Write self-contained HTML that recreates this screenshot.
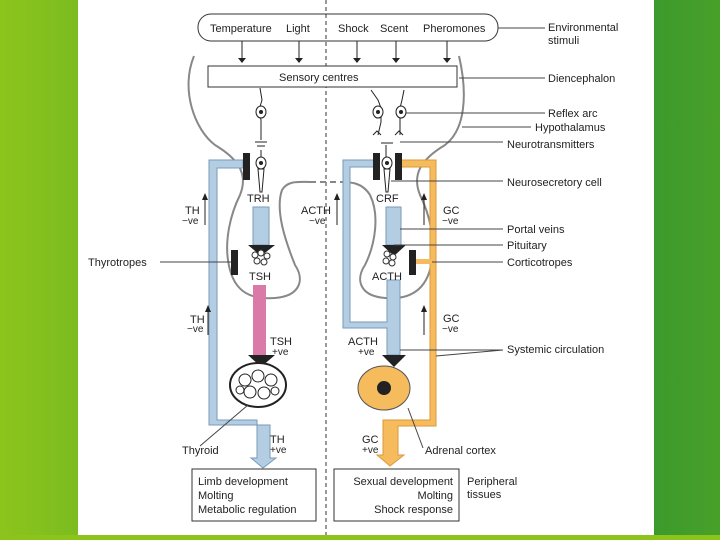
<!DOCTYPE html>
<html><head><style>
body{margin:0;width:720px;height:540px;overflow:hidden;background:linear-gradient(90deg,#8cc41c 0,#7cbc20 78px,#fff 78px,#fff 654px,#3c9a2c 654px,#48a028 720px);font-family:"Liberation Sans",sans-serif}
svg{position:absolute;left:0;top:0}
text{font-family:"Liberation Sans",sans-serif;font-size:11px;fill:#222}
.s{font-size:10px}
</style></head><body>
<svg width="720" height="540" viewBox="0 0 720 540">
<rect x="0" y="535" width="720" height="5" fill="#8cc41c"/>
<rect x="78" y="0" width="576" height="535" fill="#fff"/>
<line x1="326" y1="0" x2="326" y2="535" stroke="#333" stroke-dasharray="4,3" stroke-width="1"/>
<rect x="198" y="14" width="300" height="27" rx="13" fill="none" stroke="#333"/>
<text x="210" y="32">Temperature</text><text x="286" y="32">Light</text>
<text x="338" y="32">Shock</text><text x="380" y="32">Scent</text><text x="423" y="32">Pheromones</text>
<g stroke="#222"><line x1="242" y1="41" x2="242" y2="60"/><line x1="299" y1="41" x2="299" y2="60"/><line x1="357" y1="41" x2="357" y2="60"/><line x1="396" y1="41" x2="396" y2="60"/><line x1="447" y1="41" x2="447" y2="60"/></g>
<g fill="#222"><path d="M238,58h8l-4,5z"/><path d="M295,58h8l-4,5z"/><path d="M353,58h8l-4,5z"/><path d="M392,58h8l-4,5z"/><path d="M443,58h8l-4,5z"/></g>
<rect x="208" y="66" width="249" height="21" fill="#fff" stroke="#333"/>
<text x="279" y="81">Sensory centres</text>
<g fill="none" stroke="#888" stroke-width="2">
<path d="M194,56 C180,90 195,130 215,145 C240,160 248,175 240,195 C230,215 225,240 228,260 C232,290 248,300 275,298 C300,296 305,280 295,265 C285,240 275,210 282,190 C288,180 300,182 310,182"/>
<path d="M459,56 C468,95 465,130 445,145 C420,160 412,175 420,195 C430,215 435,240 432,260 C428,290 410,300 385,298 C360,296 355,280 365,265 C375,245 380,215 370,195 C362,182 350,182 340,182"/>
<path d="M310,182 H340" stroke-dasharray="6,4"/>
</g>
<g stroke="#222" fill="none" stroke-width="1">
<path d="M260,88 L262,100 L259,110 L261,120 L261,140 M261,150 L261,175"/>
<path d="M371,90 L378,100 L381,108 L381,122 L378,135 M404,90 L402,100 L400,108 L400,122 L400,135"/>
<path d="M386,145 L386,175"/>
</g>
<g fill="#fff" stroke="#222"><ellipse cx="261" cy="112" rx="5" ry="6"/><ellipse cx="378" cy="112" rx="5" ry="6"/><ellipse cx="401" cy="112" rx="5" ry="6"/><ellipse cx="261" cy="163" rx="5" ry="6"/><ellipse cx="387" cy="163" rx="5" ry="6"/></g>
<g fill="#222"><circle cx="261" cy="112" r="2"/><circle cx="378" cy="112" r="2"/><circle cx="401" cy="112" r="2"/><circle cx="261" cy="163" r="2"/><circle cx="387" cy="163" r="2"/></g>
<path d="M255,142 h12 M257,146 h8 M381,143 h12 M373,135 l4,-4 4,4 M395,135 l4,-4 4,4" stroke="#222" fill="none"/>
<path d="M258,169 L264,169 L262,192 L260,192z M384,169 L390,169 L388,192 L386,192z" fill="#fff" stroke="#222"/>
<g fill="#b3cde3" stroke="#7a9ab8" stroke-width="1">
<path d="M209,160 H243 V168 H217 V420 H257 V425 H209 Z"/>
<path d="M253,207 H269 V245 H253 Z"/>
<path d="M386,207 H401 V245 H386 Z"/>
<path d="M257,425 H270 V458 H276 L263,468 L251,458 H257Z"/>
<path d="M343,160 H378 V167 H350 V322 H387 V280 H400 V355 H387 V328 H343 Z"/>
</g>
<path d="M248,245 H275 L261,256Z M382,245 H406 L394,256Z M382,355 H406 L394,367Z M248,355 H275 L261,367Z" fill="#222"/>
<rect x="253" y="285" width="13" height="70" fill="#d97aa8"/>
<g fill="#f6bb5c" stroke="#d99a3a">
<path d="M400,160 H436 V426 H398 V455 H404 L390,466 L377,455 H383 V420 H430 V167 H400 Z"/>
</g>
<ellipse cx="384" cy="388" rx="26" ry="22" fill="#f6bb5c" stroke="#555"/>
<circle cx="384" cy="388" r="7" fill="#222"/>
<g fill="#222"><rect x="243" y="153" width="7" height="27"/><rect x="373" y="153" width="7" height="27"/><rect x="395" y="153" width="7" height="27"/><rect x="231" y="250" width="7" height="25"/><rect x="409" y="250" width="7" height="25"/></g>
<rect x="416" y="259" width="16" height="5" fill="#f6bb5c"/>
<line x1="160" y1="262" x2="231" y2="262" stroke="#444"/>
<g fill="#fff" stroke="#333"><circle cx="255" cy="255" r="3"/><circle cx="261" cy="253" r="3"/><circle cx="267" cy="256" r="3"/><circle cx="257" cy="261" r="3"/><circle cx="264" cy="262" r="3"/><circle cx="387" cy="254" r="3"/><circle cx="393" cy="257" r="3"/><circle cx="386" cy="261" r="3"/><circle cx="392" cy="263" r="3"/></g>
<ellipse cx="258" cy="385" rx="28" ry="22" fill="#fff" stroke="#222" stroke-width="2"/>
<g fill="none" stroke="#222"><circle cx="245" cy="380" r="6"/><circle cx="258" cy="376" r="6"/><circle cx="271" cy="380" r="6"/><circle cx="250" cy="392" r="6"/><circle cx="264" cy="393" r="6"/><circle cx="275" cy="391" r="4"/><circle cx="240" cy="390" r="4"/></g>
<g stroke="#222"><line x1="205" y1="225" x2="205" y2="198"/><line x1="208" y1="335" x2="208" y2="310"/><line x1="337" y1="225" x2="337" y2="198"/><line x1="424" y1="225" x2="424" y2="198"/><line x1="424" y1="335" x2="424" y2="310"/></g>
<g fill="#222"><path d="M202,200 L205,193 L208,200Z M205,312 L208,305 L211,312Z M334,200 L337,193 L340,200Z M421,200 L424,193 L427,200Z M421,312 L424,305 L427,312Z"/></g>
<text x="185" y="214">TH</text><text x="182" y="224" class="s">−ve</text>
<text x="190" y="323">TH</text><text x="187" y="332" class="s">−ve</text>
<text x="301" y="214">ACTH</text><text x="309" y="224" class="s">−ve</text>
<text x="443" y="214">GC</text><text x="442" y="224" class="s">−ve</text>
<text x="443" y="322">GC</text><text x="442" y="332" class="s">−ve</text>
<text x="247" y="202">TRH</text><text x="376" y="202">CRF</text>
<text x="249" y="280">TSH</text><text x="372" y="280">ACTH</text>
<text x="270" y="345">TSH</text><text x="272" y="355" class="s">+ve</text>
<text x="348" y="345">ACTH</text><text x="358" y="355" class="s">+ve</text>
<text x="270" y="443">TH</text><text x="270" y="453" class="s">+ve</text>
<text x="362" y="443">GC</text><text x="362" y="453" class="s">+ve</text>
<text x="88" y="266">Thyrotropes</text>
<text x="182" y="454">Thyroid</text>
<text x="425" y="454">Adrenal cortex</text>
<g stroke="#444" fill="none"><path d="M200,446 L248,405 M423,448 L408,408"/>
<path d="M498,28 H545 M459,78 H545 M406,113 H545 M462,127 H531 M400,142 H503 M391,181 H503 M400,229 H503 M394,245 H503 M432,262 H503 M400,350 H503 M436,356 L503,350"/></g>
<text x="548" y="31">Environmental</text><text x="548" y="44">stimuli</text>
<text x="548" y="82">Diencephalon</text>
<text x="548" y="117">Reflex arc</text>
<text x="535" y="131">Hypothalamus</text>
<text x="507" y="148">Neurotransmitters</text>
<text x="507" y="186">Neurosecretory cell</text>
<text x="507" y="233">Portal veins</text>
<text x="507" y="249">Pituitary</text>
<text x="507" y="266">Corticotropes</text>
<text x="507" y="353">Systemic circulation</text>
<rect x="192" y="469" width="124" height="52" fill="#fff" stroke="#333"/>
<text x="198" y="485">Limb development</text><text x="198" y="499">Molting</text><text x="198" y="513">Metabolic regulation</text>
<rect x="334" y="469" width="125" height="52" fill="#fff" stroke="#333"/>
<text x="453" y="485" text-anchor="end">Sexual development</text><text x="453" y="499" text-anchor="end">Molting</text><text x="453" y="513" text-anchor="end">Shock response</text>
<text x="467" y="485">Peripheral</text><text x="467" y="498">tissues</text>
</svg>
</body></html>
